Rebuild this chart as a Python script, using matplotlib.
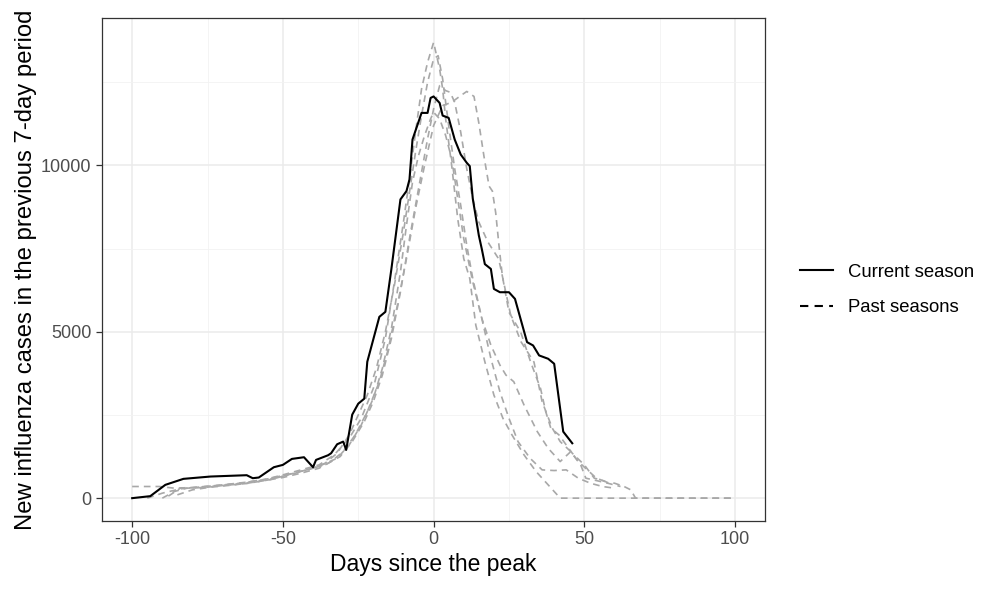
import matplotlib
matplotlib.use("Agg")
import matplotlib.pyplot as plt
from matplotlib.lines import Line2D

plt.rcParams["font.family"] = ["Liberation Sans", "DejaVu Sans"]
plt.rcParams["axes.unicode_minus"] = False

# current season (days since peak, new cases in previous 7 days)
cur_x = [-100, -94, -89, -83, -74, -62, -60, -58, -53, -50, -47, -43, -40, -39, -35, -34,
         -32, -30, -29, -27, -25, -23, -22, -18, -16, -14, -11, -9, -8, -7, -4, -2, -1, 0,
         2, 3, 5, 7, 9, 11, 12, 13, 15, 16, 17, 19, 20, 22, 25, 27, 31, 33, 35, 38, 40, 43, 46]
cur_y = [0, 60, 400, 580, 650, 690, 600, 620, 930, 1000, 1180, 1230, 930, 1150, 1290, 1350,
         1620, 1700, 1450, 2510, 2840, 2990, 4100, 5450, 5600, 6890, 8980, 9230, 9580, 10780,
         11580, 11580, 12030, 12075, 11880, 11500, 11430, 10780, 10330, 10080, 9980, 9000,
         7900, 7485, 7035, 6890, 6290, 6190, 6190, 5990, 4690, 4590, 4290, 4190, 4040, 2000, 1650]

# past seasons
p1_x = [-100, -91, -86, -80, -72, -64, -56, -50, -44, -38, -33, -28, -24, -20, -16, -13, -10,
        -8, -6, -4, -2, 0, 2, 3, 4, 6, 8, 10, 12, 14, 17, 20, 23, 26, 30, 34, 38, 41, 42, 100]
p1_y = [350, 350, 300, 320, 380, 450, 560, 700, 850, 1000, 1300, 1800, 2400, 3300, 4800, 6500,
        8300, 9600, 11000, 12300, 13100, 13700, 12900, 12300, 11400, 10000, 8400, 7200, 6600,
        5200, 4100, 3100, 2400, 1900, 1300, 800, 400, 100, 0, 0]

p2_x = [-90, -86, -82, -76, -70, -62, -54, -46, -40, -36, -32, -28, -25, -22, -19, -16, -13,
        -10, -8, -6, -4, -2, 0, 1.5, 3, 5, 7, 9, 11, 13, 16, 19, 22, 25, 28, 32, 36, 40, 44,
        48, 52, 56, 60]
p2_y = [0, 200, 300, 320, 380, 440, 560, 760, 900, 1050, 1350, 1900, 2500, 3100, 3900, 5000,
        6400, 8000, 9200, 10400, 11500, 12500, 13200, 13300, 12600, 11200, 9900, 8800, 7600,
        6600, 5400, 4200, 3200, 2400, 1700, 1200, 850, 830, 850, 600, 450, 350, 300]

p3_x = [-85, -80, -74, -66, -58, -50, -44, -38, -34, -30, -26, -22, -18, -15, -12, -9, -6, -3,
        0, 3, 6, 9, 11, 13.4, 15, 16.7, 18.4, 19.5, 20.6, 21.7, 22.8, 25, 28.9, 32.2, 35.5,
        37.2, 38.9, 41.6, 46, 50, 53.3, 55.5, 58, 60, 63.2, 65.4, 67, 100]
p3_y = [100, 250, 330, 400, 500, 620, 750, 900, 1100, 1400, 1900, 2600, 3500, 4500, 5800,
        7200, 8700, 10000, 11200, 11800, 11900, 12100, 12225, 12075, 11280, 10280, 9380, 9230,
        8580, 7585, 6685, 5590, 4990, 4090, 3290, 2600, 2100, 1900, 1350, 1000, 600, 550, 460,
        450, 350, 250, 0, 0]

p4_x = [-88, -84, -78, -70, -62, -54, -47, -41, -36, -31, -27, -23, -20, -17, -14, -11, -8,
        -5, -2, 0, 2, 4, 5.5, 7, 9, 11, 13, 15, 18, 21.6, 25.6, 29, 33.3, 36, 39.4, 42, 45.5,
        48, 51, 54, 57]
p4_y = [60, 300, 320, 380, 460, 580, 720, 880, 1000, 1250, 1700, 2300, 2900, 3700, 4800, 6200,
        7800, 9300, 10800, 11700, 12400, 12250, 12200, 11900, 11000, 9900, 9000, 8300, 7700,
        7190, 5490, 4700, 4090, 2900, 2100, 1700, 1400, 1100, 850, 600, 500]

p5_x = [-95, -90, -84, -78, -70, -62, -55, -48, -42, -37, -32, -28, -24, -20, -17, -14, -11,
        -9, -7, -5, -3, -1, 0, 2, 4, 6, 8, 10, 13, 16, 19, 22, 24, 26.6, 30, 34.4, 38, 42,
        45.5, 48.8, 50.5, 53, 57.7, 62]
p5_y = [0, 150, 280, 330, 400, 480, 580, 720, 850, 1000, 1200, 1600, 2200, 3000, 3900, 5100,
        6800, 8200, 9500, 10300, 10900, 11400, 11600, 11400, 10900, 10200, 9000, 7800, 6500,
        5400, 4600, 4000, 3700, 3500, 2800, 2000, 1500, 1100, 1400, 1000, 600, 550, 450, 350]

past = [(p1_x, p1_y), (p2_x, p2_y), (p3_x, p3_y), (p4_x, p4_y), (p5_x, p5_y)]

x_ticks = [-100, -50, 0, 50, 100]
y_ticks = [0, 5000, 10000]

fig = plt.figure(figsize=(9.81, 5.93), dpi=100)
ax = fig.add_axes([0.104, 0.1214, 0.676, 0.8482])

for px, py in past:
    ax.plot(px, py, color="#A8A8A8", lw=1.2, dashes=(4, 3), zorder=2)
ax.plot(cur_x, cur_y, color="black", lw=1.5, zorder=3)

ax.set_xlim(-110, 110)
ax.set_ylim(-687, 14432)
ax.set_xticks(x_ticks)
ax.set_yticks(y_ticks)
ax.set_xticks([-75, -25, 25, 75], minor=True)
ax.set_yticks([2500, 7500, 12500], minor=True)
ax.grid(which="major", color="#EBEBEB", lw=1.1, zorder=0)
ax.grid(which="minor", color="#F2F2F2", lw=0.6, zorder=0)
ax.set_axisbelow(True)
for s in ax.spines.values():
    s.set_color("#333333")
    s.set_linewidth(0.9)
ax.tick_params(which="major", length=4, color="#333333", labelsize=13,
               labelcolor="#4D4D4D", width=0.9)
ax.tick_params(which="minor", length=0)

ax.set_xlabel("Days since the peak", fontsize=16.5, labelpad=3)
ax.set_ylabel("New influenza cases in the previous 7-day period", fontsize=17.2, labelpad=3)

handles = [Line2D([], [], color="black", lw=1.5),
           Line2D([], [], color="black", lw=1.5, dashes=(4, 3))]
ax.legend(handles, ["Current season", "Past seasons"], loc="center left",
          bbox_to_anchor=(1.028, 0.459), frameon=False, fontsize=13.3,
          handlelength=1.75, handletextpad=0.85, labelspacing=1.0)

fig.savefig("out.png", dpi=100)
